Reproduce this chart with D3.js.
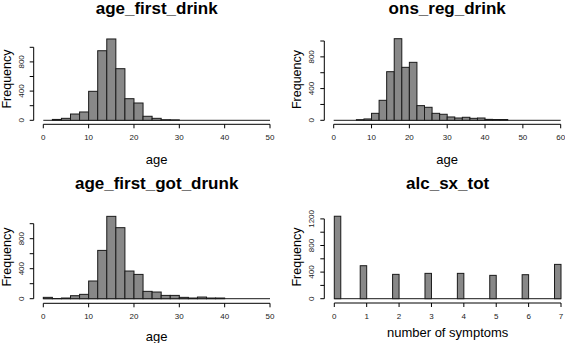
<!DOCTYPE html>
<html>
<head>
<meta charset="utf-8">
<script src="https://cdn.jsdelivr.net/npm/d3@7"></script>
<style>
  body { margin: 0; background: #fff; }
  svg { display: block; font-family: "Liberation Sans", Arial, sans-serif; }
</style>
</head>
<body>
<svg id="chart" width="565" height="343"></svg>
<script>
// Histogram counts (bin width 2 years)
const firstDrinkCounts = [0, 12, 27, 86, 114, 397, 953, 1114, 707, 296, 237, 55, 27, 8, 6,
    0, 0, 0, 0, 0, 0, 0, 0, 0, 0];
const regDrinkCounts = [0, 0, 0, 8, 17, 88, 252, 613, 1029, 668, 731, 185, 164, 88, 76,
    42, 29, 38, 25, 29, 12, 10, 10, 0, 0, 0, 0, 0, 0, 0];
const firstDrunkCounts = [18, 2, 9, 40, 58, 236, 644, 1098, 947, 369, 324, 98, 89, 44, 44,
    18, 9, 22, 9, 9, 0, 0, 0, 0, 0];
// number of symptoms 0..7
const symptomValues = [0, 1, 2, 3, 4, 5, 6, 7];
const symptomCounts = [1240, 496, 366, 381, 381, 351, 361, 516];

const titles = ["age_first_drink", "ons_reg_drink", "age_first_got_drunk", "alc_sx_tot"];
const xLabels = ["age", "age", "age", "number of symptoms"];
const ageTicks50 = [0, 10, 20, 30, 40, 50];
const ageTicks60 = [0, 10, 20, 30, 40, 50, 60];
const freqTicks = [0, 200, 400, 600, 800, 1000];
const freqTicks4 = [0, 200, 400, 600, 800, 1000, 1200];
const freqLabels = [0, 400, 800, 1200];

// turn counts into bins {x0, x1, n}
const toBins = (counts, width) => counts.map((n, i) => ({ x0: i * width, x1: (i + 1) * width, n: n }));

// symptoms: breaks every 0.2, value k lands in (k-0.2, k], 0 in [0, 0.2]
const symptomBins = d3.range(35).map(i => {
    const x0 = +(i * 0.2).toFixed(1), x1 = +((i + 1) * 0.2).toFixed(1);
    const k = symptomValues.find(v => (v === 0 ? i === 0 : Math.abs(x1 - v) < 1e-9));
    return { x0: x0, x1: x1, n: k === undefined ? 0 : symptomCounts[k] };
});

const panels = [
    { bins: toBins(firstDrinkCounts, 2), xDomain: [0, 50], xRange: [43.3, 270], xTicks: ageTicks50,
      yTop: 1000, yRange: [120.3, 47.3], yTicks: freqTicks, axisX: 33.7, axisY: 124.3,
      titleY: 14, labelY: 164, freqX: 11, freqY: 79 },
    { bins: toBins(regDrinkCounts, 2), xDomain: [0, 60], xRange: [333.7, 560.7], xTicks: ageTicks60,
      yTop: 1000, yRange: [120.3, 41], yTicks: freqTicks, axisX: 324.3, axisY: 124.3,
      titleY: 14, labelY: 164, freqX: 301, freqY: 79.5 },
    { bins: toBins(firstDrunkCounts, 2), xDomain: [0, 50], xRange: [43.3, 270], xTicks: ageTicks50,
      yTop: 1000, yRange: [298.7, 223.7], yTicks: freqTicks, axisX: 33.7, axisY: 303.3,
      titleY: 189, labelY: 341, freqX: 11, freqY: 257 },
    { bins: symptomBins, xDomain: [0, 7], xRange: [334.3, 561], xTicks: symptomValues,
      yTop: 1200, yRange: [298.7, 218.9], yTicks: freqTicks4, axisX: 324.3, axisY: 303,
      titleY: 189, labelY: 337, freqX: 301, freqY: 257 }
];

const svg = d3.select("#chart");

panels.forEach((p, idx) => {
    const x = d3.scaleLinear().domain(p.xDomain).range(p.xRange);
    const y = d3.scaleLinear().domain([0, p.yTop]).range(p.yRange);
    const g = svg.append("g");

    // empty bins still draw a flat outline along the base
    g.append("line")
        .attr("x1", x(p.bins[0].x0)).attr("x2", x(p.bins[p.bins.length - 1].x1))
        .attr("y1", y(0)).attr("y2", y(0))
        .attr("stroke", "#1a1a1a");

    g.selectAll("rect")
        .data(p.bins.filter(d => d.n > 0))
        .join("rect")
        .attr("x", d => x(d.x0))
        .attr("y", d => y(d.n))
        .attr("width", d => x(d.x1) - x(d.x0))
        .attr("height", d => y(0) - y(d.n))
        .attr("fill", "#888")
        .attr("stroke", "#1a1a1a")
        .attr("stroke-width", 1);

    // x axis, R style: line from first to last tick, ticks pointing down
    const xa = g.append("g").attr("transform", `translate(0,${p.axisY})`);
    xa.append("line")
        .attr("x1", x(p.xTicks[0])).attr("x2", x(p.xTicks[p.xTicks.length - 1]))
        .attr("stroke", "#000");
    xa.selectAll(".tk").data(p.xTicks).join("line")
        .attr("x1", d => x(d)).attr("x2", d => x(d))
        .attr("y1", 0).attr("y2", 4)
        .attr("stroke", "#000");
    xa.selectAll("text").data(p.xTicks).join("text")
        .attr("x", d => x(d)).attr("y", 14)
        .attr("text-anchor", "middle")
        .attr("dominant-baseline", "middle")
        .style("font-size", "8px")
        .attr("fill", "#222")
        .text(d => d);

    // y axis
    const ya = g.append("g").attr("transform", `translate(${p.axisX},0)`);
    ya.append("line")
        .attr("y1", y(0)).attr("y2", y(p.yTicks[p.yTicks.length - 1]))
        .attr("stroke", "#000");
    ya.selectAll(".tk").data(p.yTicks).join("line")
        .attr("x1", -4).attr("x2", 0)
        .attr("y1", d => y(d)).attr("y2", d => y(d))
        .attr("stroke", "#000");
    ya.selectAll("text").data(p.yTicks.filter(t => freqLabels.includes(t))).join("text")
        .attr("transform", d => `translate(-12,${y(d)}) rotate(-90)`)
        .attr("text-anchor", "middle")
        .attr("dominant-baseline", "middle")
        .style("font-size", "8px")
        .attr("fill", "#222")
        .text(d => d);

    const cx = (p.xRange[0] + p.xRange[1]) / 2;

    // title
    g.append("text")
        .attr("x", cx).attr("y", p.titleY)
        .attr("text-anchor", "middle")
        .style("font-size", "17px")
        .style("font-weight", "bold")
        .text(titles[idx]);

    // axis labels
    g.append("text")
        .attr("x", cx).attr("y", p.labelY)
        .attr("text-anchor", "middle")
        .style("font-size", "13px")
        .text(xLabels[idx]);

    g.append("text")
        .attr("transform", `translate(${p.freqX},${p.freqY}) rotate(-90)`)
        .attr("text-anchor", "middle")
        .style("font-size", "12.5px")
        .text("Frequency");
});
</script>
</body>
</html>
